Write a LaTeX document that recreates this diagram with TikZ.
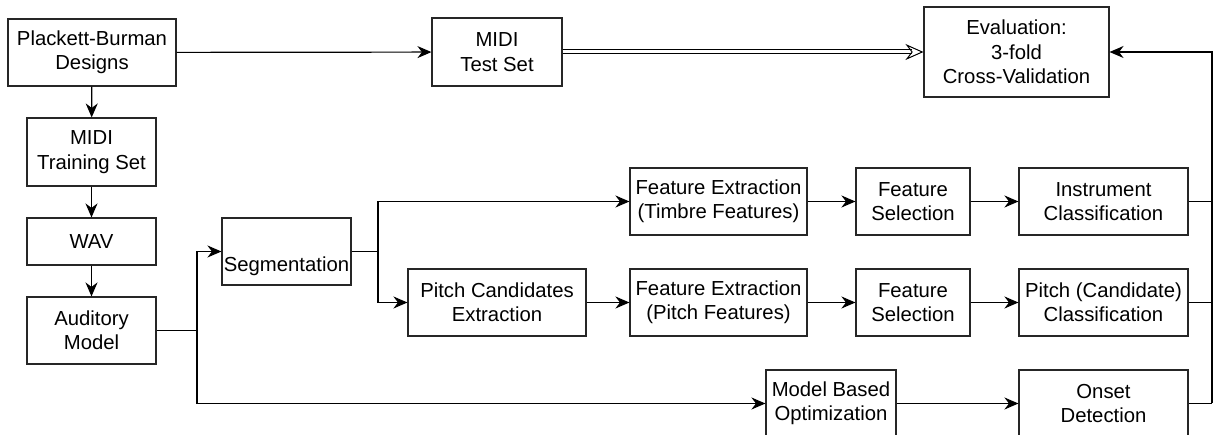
\documentclass[tikz,border=0pt]{standalone}
\usepackage{fontspec}
\setmainfont{Liberation Sans}
\usetikzlibrary{arrows.meta,positioning}

\begin{document}
\begin{tikzpicture}[x=1bp,y=-1bp,
  box/.style={draw=black!85, line width=1.1bp, inner sep=0pt, align=center,
    font=\fontsize{20.3bp}{24.3bp}\selectfont},
  conn/.style={line width=1.2bp, -{Stealth[length=14bp,width=12bp,inset=4.5bp]}},
  wire/.style={line width=1.2bp}]
  \clip (0,0) rectangle (1213,435);

  % left column
  \node[box, minimum width=168bp, minimum height=67bp] (pb)    at (92,52.5)   {Plackett-Burman\\Designs};
  \node[box, minimum width=129bp, minimum height=68bp] (train) at (91.5,152)  {MIDI\\Training Set};
  \node[box, minimum width=129bp, minimum height=47bp] (wav)   at (91.5,241.5){WAV};
  \node[box, minimum width=129bp, minimum height=67bp] (aud)   at (91.5,330.5){Auditory\\Model};

  % top row
  \node[box, minimum width=130bp, minimum height=68bp] (test) at (497,52)    {MIDI\\Test Set};
  \node[box, minimum width=185bp, minimum height=90bp] (eval) at (1016.5,52) {Evaluation:\\3-fold\\Cross-Validation};

  % segmentation (label sits low in its box)
  \node[box, minimum width=129bp, minimum height=67bp,
        label={[font=\fontsize{20.3bp}{24.3bp}\selectfont, yshift=-15bp]center:Segmentation}] (seg) at (286.5,251.5) {};

  % timbre branch
  \node[box, minimum width=177bp, minimum height=67bp] (fet) at (718.5,201.5) {Feature Extraction\\(Timbre Features)};
  \node[box, minimum width=114bp, minimum height=67bp] (fs1) at (913,201.5)   {Feature\\Selection};
  \node[box, minimum width=169bp, minimum height=67bp] (ic)  at (1103.5,201.5){Instrument\\Classification};

  % pitch branch
  \node[box, minimum width=178bp, minimum height=67bp] (pce) at (497,302.5)   {Pitch Candidates\\Extraction};
  \node[box, minimum width=177bp, minimum height=67bp] (fep) at (718.5,302.5) {Feature Extraction\\(Pitch Features)};
  \node[box, minimum width=114bp, minimum height=67bp] (fs2) at (913,302.5)   {Feature\\Selection};
  \node[box, minimum width=169bp, minimum height=67bp] (pcc) at (1103.5,302.5){Pitch (Candidate)\\Classification};

  % onset branch
  \node[box, minimum width=130bp, minimum height=67bp] (mbo)   at (831,403.5)   {Model Based\\Optimization};
  \node[box, minimum width=169bp, minimum height=67bp] (onset) at (1103.5,403.5){Onset\\Detection};

  % junctions
  \coordinate (ja) at (197,330.5);
  \coordinate (js) at (378,251.5);
  \coordinate (jr) at (1212,52);

  % left column flow
  \draw[conn] (pb) -- (train);
  \draw[conn] (train) -- (wav);
  \draw[conn] (wav) -- (aud);

  % top flow
  \draw[conn] (pb) -- (test);
  \draw[line width=1bp, double, double distance=3bp,
        -{Stealth[open,length=18bp,width=16bp,inset=6bp]}] (test) -- (eval);

  % auditory model outputs
  \draw[wire] (aud) -- (ja);
  \draw[conn] (ja) |- (seg.west);
  \draw[conn] (ja) |- (mbo.west);

  % segmentation split
  \draw[wire] (seg) -- (js);
  \draw[conn] (js) |- (fet.west);
  \draw[conn] (js) |- (pce.west);

  % processing chains
  \draw[conn] (fet) -- (fs1);
  \draw[conn] (fs1) -- (ic);
  \draw[conn] (pce) -- (fep);
  \draw[conn] (fep) -- (fs2);
  \draw[conn] (fs2) -- (pcc);
  \draw[conn] (mbo) -- (onset);

  % results back to evaluation
  \draw[wire] (ic.east) -- (ic.east -| jr);
  \draw[wire] (pcc.east) -- (pcc.east -| jr);
  \draw[wire] (onset.east) -- (onset.east -| jr);
  \draw[conn] (onset.east -| jr) -- (jr) -- (eval.east);
\end{tikzpicture}
\end{document}
